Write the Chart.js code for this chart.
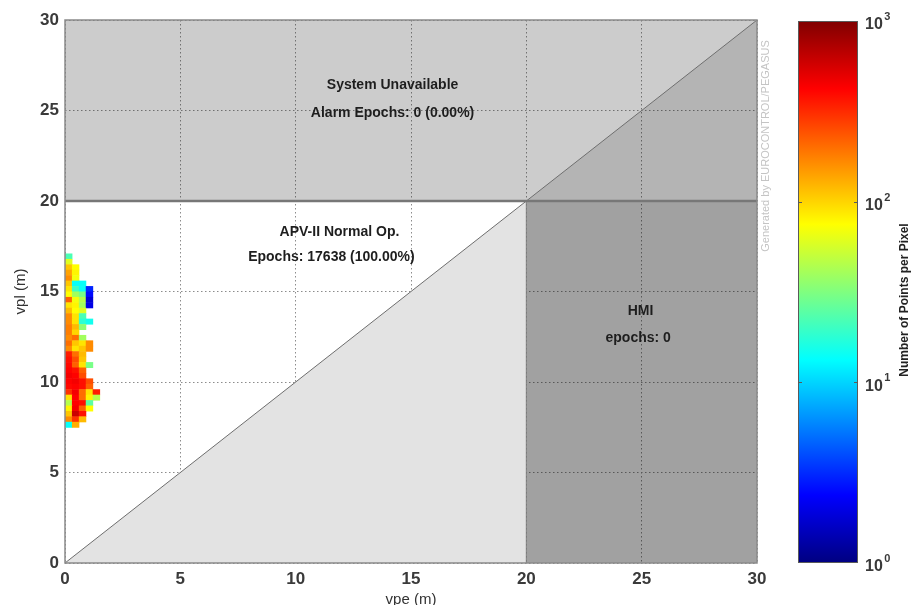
<!DOCTYPE html>
<html>
<head>
<meta charset="utf-8">
<script src="https://cdn.jsdelivr.net/npm/chart.js@4.4.1/dist/chart.umd.min.js"></script>
<style>
  html, body { margin: 0; padding: 0; background: #fff; overflow: hidden; }
  #wrap { position: relative; width: 912px; height: 605px; }
  #stanford { position: absolute; left: 0; top: 0; }
  #colorbar { position: absolute; left: 780px; top: 0; }
</style>
</head>
<body>
<div id="wrap">
  <canvas id="stanford" width="912" height="605"></canvas>
  <canvas id="colorbar" width="132" height="605"></canvas>
</div>
<script>
// Stanford plot axes (metres)
const axisMax = 30;
const alertLimit = 20;
const axisStep = 5;

// 2D histogram of (vpe, vpl) samples, 0.3 m pixels
const binSize = 0.3;
const binOriginX = 0;     // vpe of first column
const binTopY = 17.1;     // vpl of top edge of first row
// points per pixel, rows from the top down, columns from vpe = 0
const pixelCounts = [
  [22, 0, 0, 0, 0],
  [60, 0, 0, 0, 0],
  [110, 75, 0, 0, 0],
  [140, 80, 0, 0, 0],
  [165, 70, 0, 0, 0],
  [110, 14, 14, 0, 0],
  [90, 20, 14, 3, 0],
  [75, 40, 30, 2.5, 0],
  [220, 70, 45, 1.8, 0],
  [90, 80, 40, 2, 0],
  [120, 75, 60, 0, 0],
  [165, 90, 22, 0, 0],
  [165, 90, 18, 15, 0],
  [180, 120, 35, 0, 0],
  [180, 100, 0, 0, 0],
  [165, 200, 40, 0, 0],
  [200, 110, 90, 165, 0],
  [165, 90, 110, 165, 0],
  [350, 200, 120, 0, 0],
  [380, 250, 110, 0, 0],
  [400, 220, 90, 30, 0],
  [420, 380, 220, 0, 0],
  [450, 420, 250, 0, 0],
  [420, 450, 380, 250, 0],
  [400, 420, 380, 220, 0],
  [300, 450, 200, 90, 350],
  [90, 420, 200, 80, 45],
  [45, 420, 380, 25, 0],
  [80, 450, 220, 75, 0],
  [110, 600, 380, 0, 0],
  [165, 300, 120, 0, 0],
  [14, 130, 0, 0, 0]
];

// colour bar (log scale), labels are 10^exponent
const colorbarTicks = [1, 10, 100, 1000];
const colorbarExponents = ['0', '1', '2', '3'];

// region labels, anchored in plot units
const regionText = [
  { text: 'System Unavailable', x: 14.2, y: 26.4 },
  { text: 'Alarm Epochs: 0 (0.00%)', x: 14.2, y: 24.85 },
  { text: 'APV-II Normal Op.', x: 11.9, y: 18.3 },
  { text: 'Epochs: 17638 (100.00%)', x: 11.55, y: 16.9 },
  { text: 'HMI', x: 24.95, y: 13.9 },
  { text: 'epochs: 0', x: 24.85, y: 12.4 }
];

const FONT = "'Liberation Sans', Arial, sans-serif";

function clamp01(v) { return Math.max(0, Math.min(1, v)); }
function jetColor(t) {
  const r = clamp01(1.5 - Math.abs(4 * t - 3));
  const g = clamp01(1.5 - Math.abs(4 * t - 2));
  const b = clamp01(1.5 - Math.abs(4 * t - 1));
  return `rgb(${Math.round(r * 255)},${Math.round(g * 255)},${Math.round(b * 255)})`;
}

const heatmapPlugin = {
  id: 'pixelHeatmap',
  afterDatasetsDraw(chart) {
    const { ctx, scales: { x, y } } = chart;
    ctx.save();
    pixelCounts.forEach((row, i) => {
      const yTop = binTopY - i * binSize;
      row.forEach((n, j) => {
        if (!n) return;
        const x0 = binOriginX + j * binSize;
        const px0 = x.getPixelForValue(x0);
        const px1 = x.getPixelForValue(x0 + binSize);
        const py0 = y.getPixelForValue(yTop);
        const py1 = y.getPixelForValue(yTop - binSize);
        ctx.fillStyle = jetColor(Math.log10(n) / 3);
        ctx.fillRect(px0, py0, px1 - px0 + 0.5, py1 - py0 + 0.5);
      });
    });
    ctx.restore();
  }
};

const labelsPlugin = {
  id: 'stanfordLabels',
  afterDraw(chart) {
    const { ctx, chartArea: a, scales: { x, y } } = chart;
    ctx.save();
    // axes box
    ctx.strokeStyle = '#8a8a8a';
    ctx.lineWidth = 1.5;
    ctx.strokeRect(a.left, a.top, a.right - a.left, a.bottom - a.top);

    ctx.fillStyle = '#1e1e1e';
    ctx.font = 'bold 14px ' + FONT;
    ctx.textAlign = 'center';
    ctx.textBaseline = 'middle';
    regionText.forEach(t => ctx.fillText(t.text, x.getPixelForValue(t.x), y.getPixelForValue(t.y)));

    // watermark
    ctx.translate(a.right + 9, a.top + 126);
    ctx.rotate(-Math.PI / 2);
    ctx.font = '11px ' + FONT;
    ctx.fillStyle = '#c4c4c4';
    ctx.fillText('Generated by EUROCONTROL/PEGASUS', 0, 0);
    ctx.restore();
  }
};

const tickFont = { family: FONT, size: 17, weight: 'bold' };
const titleFont = { family: FONT, size: 15 };

new Chart(document.getElementById('stanford'), {
  type: 'scatter',
  data: {
    datasets: [
      { label: 'alert limit', data: [{ x: 0, y: alertLimit }, { x: axisMax, y: alertLimit }],
        borderColor: '#777', borderWidth: 2.5, fill: false, order: 0 },
      { label: 'vpl = vpe', data: [{ x: 0, y: 0 }, { x: axisMax, y: axisMax }],
        borderColor: '#6e6e6e', borderWidth: 1, fill: false, order: 0 },
      { label: 'vpe limit', data: [{ x: alertLimit, y: 0 }, { x: alertLimit, y: alertLimit }],
        borderColor: '#7a7a7a', borderWidth: 1, fill: false, order: 0 },
      { label: 'MI', data: [{ x: 0, y: 0 }, { x: alertLimit, y: alertLimit }],
        borderWidth: 0, fill: 'origin', backgroundColor: '#e3e3e3', order: 1 },
      { label: 'HMI', data: [{ x: alertLimit, y: alertLimit }, { x: axisMax, y: alertLimit }],
        borderWidth: 0, fill: 'origin', backgroundColor: 'rgba(0,0,0,0.37)', order: 2 },
      { label: 'unavailable HMI', data: [{ x: alertLimit, y: alertLimit }, { x: axisMax, y: axisMax }],
        borderWidth: 0, fill: { value: alertLimit }, backgroundColor: 'rgba(0,0,0,0.12)', order: 2 },
      { label: 'unavailable', data: [{ x: 0, y: axisMax }, { x: axisMax, y: axisMax }],
        borderWidth: 0, fill: { value: alertLimit }, backgroundColor: 'rgba(0,0,0,0.2)', order: 3 }
    ].map(d => Object.assign({ showLine: true, pointRadius: 0, pointHoverRadius: 0 }, d))
  },
  options: {
    responsive: false,
    animation: false,
    devicePixelRatio: 1,
    layout: { padding: { left: 0, top: 20, right: 155, bottom: 0 } },
    plugins: { legend: { display: false }, tooltip: { enabled: false } },
    scales: {
      x: {
        type: 'linear', min: 0, max: axisMax,
        afterFit(s) { s.height = 42; },
        ticks: { stepSize: axisStep, padding: 6, font: tickFont, color: '#3a3a3a', maxRotation: 0 },
        grid: { color: '#8c8c8c', lineWidth: 1, drawTicks: false },
        border: { display: false, dash: [1.5, 2.5] },
        title: { display: true, text: 'vpe (m)', font: titleFont, color: '#333', padding: { top: 0, bottom: -4 } }
      },
      y: {
        type: 'linear', min: 0, max: axisMax,
        afterFit(s) { s.width = 65; },
        ticks: { stepSize: axisStep, padding: 6, font: tickFont, color: '#3a3a3a' },
        grid: { color: '#8c8c8c', lineWidth: 1, drawTicks: false },
        border: { display: false, dash: [1.5, 2.5] },
        title: { display: true, text: 'vpl (m)', font: titleFont, color: '#333', padding: { top: 12, bottom: 0 } }
      }
    }
  },
  plugins: [heatmapPlugin, labelsPlugin]
});

// colour bar
const colorbarPlugin = {
  id: 'jetBar',
  afterDraw(chart) {
    const { ctx, chartArea: a, scales: { y } } = chart;
    ctx.save();
    const grad = ctx.createLinearGradient(0, a.bottom, 0, a.top);
    [0, 0.125, 0.375, 0.625, 0.875, 1].forEach(t => grad.addColorStop(t, jetColor(t)));
    ctx.fillStyle = grad;
    ctx.fillRect(a.left, a.top, a.right - a.left, a.bottom - a.top);
    ctx.strokeStyle = '#5a5a5a';
    ctx.lineWidth = 1;
    ctx.strokeRect(a.left + 0.5, a.top + 0.5, a.right - a.left - 1, a.bottom - a.top - 1);
    colorbarTicks.slice(1, -1).forEach(v => {
      const py = Math.round(y.getPixelForValue(v)) + 0.5;
      ctx.beginPath();
      ctx.moveTo(a.left, py); ctx.lineTo(a.left + 4, py);
      ctx.moveTo(a.right - 4, py); ctx.lineTo(a.right, py);
      ctx.stroke();
    });

    // 10^n tick labels
    ctx.fillStyle = '#3a3a3a';
    ctx.textAlign = 'left';
    ctx.textBaseline = 'middle';
    colorbarTicks.forEach((v, i) => {
      const py = y.getPixelForValue(v) + 4;
      const px = a.right + 7;
      ctx.font = 'bold 16px ' + FONT;
      ctx.fillText('10', px, py);
      const w = ctx.measureText('10').width;
      ctx.font = 'bold 11px ' + FONT;
      ctx.fillText(colorbarExponents[i], px + w + 1.5, py - 8);
    });

    ctx.translate(a.right + 47, (a.top + a.bottom) / 2 + 8);
    ctx.rotate(-Math.PI / 2);
    ctx.font = 'bold 12px ' + FONT;
    ctx.fillStyle = '#222';
    ctx.textAlign = 'center';
    ctx.textBaseline = 'middle';
    ctx.fillText('Number of Points per Pixel', 0, 0);
    ctx.restore();
  }
};

new Chart(document.getElementById('colorbar'), {
  type: 'scatter',
  data: { datasets: [] },
  options: {
    responsive: false,
    animation: false,
    devicePixelRatio: 1,
    layout: { padding: { left: 18, top: 21, right: 0, bottom: 42 } },
    plugins: { legend: { display: false }, tooltip: { enabled: false } },
    scales: {
      x: { display: false, min: 0, max: 1 },
      y: {
        type: 'logarithmic', position: 'right', min: 1, max: 1000,
        afterBuildTicks(s) { s.ticks = colorbarTicks.map(v => ({ value: v })); },
        afterFit(s) { s.width = 54; },
        ticks: { display: false },
        grid: { display: false, drawTicks: false },
        border: { display: false }
      }
    }
  },
  plugins: [colorbarPlugin]
});
</script>
</body>
</html>
